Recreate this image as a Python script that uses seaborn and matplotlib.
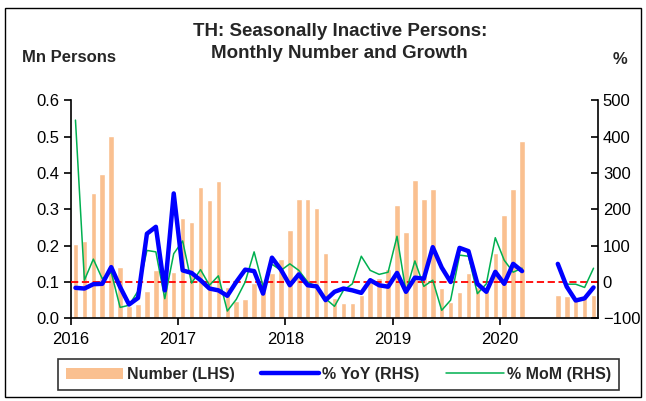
import numpy as np
import pandas as pd
import matplotlib
matplotlib.use('Agg')
import matplotlib.pyplot as plt
import seaborn as sns
from matplotlib.patches import Patch, Rectangle
from matplotlib.lines import Line2D

nan = np.nan

# monthly data, Jan 2016 - Nov 2020 (Apr-Jun 2020 missing)
months = pd.date_range('2016-01-01', periods=59, freq='MS')
number = [0.204, 0.213, 0.346, 0.397, 0.502, 0.141, 0.035, 0.040, 0.075, 0.133, 0.090, 0.128,
          0.276, 0.266, 0.363, 0.326, 0.377, 0.087, 0.049, 0.054, 0.097, 0.085, 0.126, 0.163,
          0.242, 0.330, 0.330, 0.305, 0.179, 0.055, 0.041, 0.041, 0.065, 0.100, 0.112, 0.136,
          0.312, 0.237, 0.380, 0.330, 0.356, 0.083, 0.046, 0.073, 0.126, 0.085, 0.080, 0.179,
          0.284, 0.356, 0.489, nan, nan, nan, 0.064, 0.062, 0.050, 0.055, 0.064]
yoy = [-16, -18, -6, -5, 41, -14, -62, -44, 133, 152, -23, 244,
       32, 25, 5, -18, -23, -38, 0, 34, 30, -32, 67, 34,
       -9, 21, -9, -12, -50, -27, -18, -23, -30, 5, -9, -13,
       25, -27, 12, 9, 96, 40, 0, 94, 85, -5, -27, 28,
       -5, 50, 30, nan, nan, nan, 50, -13, -51, -45, -15]
mom = [446, 5, 63, 9, 27, -70, -64, -25, 87, 83, -46, 78,
       113, -3, 34, -9, 17, -80, -48, 0, 83, -12, 49, 32,
       50, 32, 0, -13, -46, -67, -23, -5, 71, 32, 21, 27,
       126, -27, 58, -12, 5, -78, -50, 74, 71, -32, -5, 122,
       60, 27, 38, nan, nan, nan, nan, -6, -6, -15, 38]
year_labels = ['2016', '2017', '2018', '2019', '2020']

df = pd.DataFrame({'month': months, 'number': number, 'yoy': yoy, 'mom': mom})
df['pos'] = np.arange(len(df)) + 0.5
df['seg'] = (df['month'] >= '2020-04-01').astype(int)

sns.set_theme(style='ticks')
plt.rcParams['font.family'] = ['Liberation Sans', 'DejaVu Sans']

bar_col = '#FAC090'
yoy_col = '#0000FF'
mom_col = '#00B050'

fig = plt.figure(figsize=(6.46, 4.01), dpi=100)
ax = fig.add_axes([71/646, 1-318.3/401, (598-71)/646, (318.3-100.5)/401])

sns.barplot(data=df, x='pos', y='number', native_scale=True, color=bar_col,
            saturation=1, width=0.62, errorbar=None, ax=ax)
ax.set_xlim(0, 59)
ax.set_ylim(0, 0.6)
ax.set_xticks([0, 12, 24, 36, 48])
ax.set_xticklabels(year_labels)
ax.set_yticks(np.arange(0, 0.61, 0.1))
ax.set_yticklabels([f'{v:.1f}' for v in np.arange(0, 0.61, 0.1)])
ax.set_xlabel('')
ax.set_ylabel('')

ax2 = ax.twinx()
ax2.axhline(0, color='red', ls=(0, (4, 2)), lw=1.3, zorder=1)
sns.lineplot(data=df, x='pos', y='mom', units='seg', estimator=None,
             color=mom_col, lw=1.1, legend=False, ax=ax2)
sns.lineplot(data=df, x='pos', y='yoy', units='seg', estimator=None,
             color=yoy_col, lw=3.2, legend=False, ax=ax2)
ax2.set_xlim(0, 59)
ax2.set_ylim(-100, 500)
ax2.set_yticks(range(-100, 501, 100))
ax2.set_xlabel('')
ax2.set_ylabel('')

for a in (ax, ax2):
    a.spines['top'].set_visible(False)
    for s in a.spines.values():
        s.set_color('black')
        s.set_linewidth(1.2)
ax.spines['right'].set_visible(False)
ax2.spines['left'].set_visible(False)
ax2.spines['bottom'].set_visible(False)

ax.tick_params(axis='both', direction='out', length=5, width=1.2, labelsize=12, colors='black')
ax.tick_params(axis='x', pad=5)
ax2.tick_params(axis='y', direction='in', length=5, width=1.2, labelsize=12, colors='black')

fig.text(0.526, 1-31/401, 'TH: Seasonally Inactive Persons:', ha='center', va='center',
         fontsize=13.5, fontweight='bold')
fig.text(0.526, 1-53/401, 'Monthly Number and Growth', ha='center', va='center',
         fontsize=13.5, fontweight='bold')
fig.text(22/646, 1-57/401, 'Mn Persons', ha='left', va='center', fontsize=12, fontweight='bold')
fig.text(620/646, 1-60/401, '%', ha='center', va='center', fontsize=12, fontweight='bold')

handles = [Patch(facecolor=bar_col, edgecolor='none'),
           Line2D([], [], color=yoy_col, lw=3.2),
           Line2D([], [], color=mom_col, lw=1.1)]
labels = ['Number (LHS)', '% YoY (RHS)', '% MoM (RHS)']
leg = fig.legend(handles, labels, loc='lower left',
                 bbox_to_anchor=(58/646, 1-390/401, 561/646, 35/401), mode='expand',
                 ncol=3, frameon=True, fancybox=False, edgecolor='black',
                 prop={'weight': 'bold', 'size': 11.5}, handlelength=3.6,
                 handletextpad=0.2, borderaxespad=0, borderpad=0.5)
leg.get_frame().set_linewidth(1.2)

fig.add_artist(Rectangle((5/646, 4/401), 636/646, 389/401, transform=fig.transFigure,
                         fill=False, ec='black', lw=1))

fig.savefig('out.png', dpi=100)
